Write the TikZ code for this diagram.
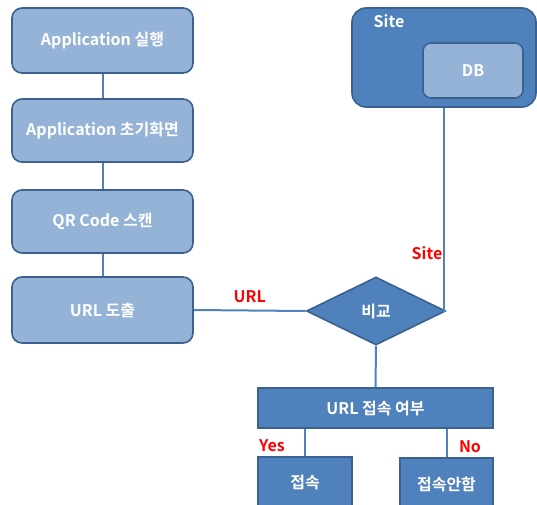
\documentclass[tikz,border=0pt]{standalone}
\usepackage{fontspec}
\setmainfont{Noto Sans CJK KR}[BoldFont={Noto Sans CJK KR Bold}]
\usetikzlibrary{shapes.geometric}
\definecolor{lightblue}{HTML}{95B3D7}
\definecolor{midblue}{HTML}{4F81BD}
\definecolor{edgeblue}{HTML}{3B6190}

\tikzset{
  stepbox/.style={draw=edgeblue, line width=1.6pt, fill=lightblue, rounded corners=10pt,
    text=white, font=\fontsize{16}{18}\selectfont\bfseries, inner sep=0pt},
  darkbox/.style={draw=edgeblue, line width=1.6pt, fill=midblue, text=white,
    font=\fontsize{16}{18}\selectfont\bfseries, inner sep=0pt},
  link/.style={draw=midblue, line width=2pt},
  redlabel/.style={text=red, font=\fontsize{16}{18}\selectfont\bfseries}
}

\begin{document}
\begin{tikzpicture}[x=1pt,y=-1pt]
\useasboundingbox (0,0) rectangle (537,504);
\clip (0,0) rectangle (537,504);
% left column
\node[stepbox, minimum width=181pt, minimum height=65pt] (run) at (102.5,40.5) {Application 실행};
\node[stepbox, minimum width=181pt, minimum height=63pt] (init) at (102.5,130.5) {Application 초기화면};
\node[stepbox, minimum width=181pt, minimum height=63pt] (scan) at (102.5,221.5) {QR Code 스캔};
\node[stepbox, minimum width=181pt, minimum height=66pt] (url) at (102.5,310) {URL 도출};
% site
\node[darkbox, rounded corners=14pt, minimum width=184pt, minimum height=99pt] (site) at (444,57.5) {};
\node[text=white, font=\fontsize{16}{18}\selectfont\bfseries] (sitetxt) at (389,21) {Site};
\node[stepbox, rounded corners=8pt, minimum width=100pt, minimum height=55pt] (db) at (473,70.5) {DB};
% decision
\node[darkbox, diamond, minimum width=139pt, minimum height=68pt] (cmp) at (376,311) {비교};
\node[darkbox, minimum width=235pt, minimum height=40pt] (ask) at (375.5,408) {URL 접속 여부};
\node[darkbox, minimum width=94pt, minimum height=52pt] (yes) at (305,483) {접속};
\node[darkbox, minimum width=93pt, minimum height=52pt] (no) at (446.5,484) {접속안함};

\draw[link] (run) -- (init);
\draw[link] (init) -- (scan);
\draw[link] (scan) -- (url);
\draw[link] (url.east) -- (cmp.west) node[redlabel, midway, above=3pt] {URL};
\draw[link] (site.south) -- (site.south |- cmp.east) -- (cmp.east);
\node[redlabel] (sitelbl) at (427,253) {Site};
\draw[link] (cmp.south) -- (ask.north);
\draw[link] (ask.south -| yes.north) -- (yes.north);
\draw[link] (ask.south -| no.north) -- (no.north);
\node[redlabel] (yeslbl) at (272,446) {Yes};
\node[redlabel] (nolbl) at (470,447) {No};
\end{tikzpicture}
\end{document}
